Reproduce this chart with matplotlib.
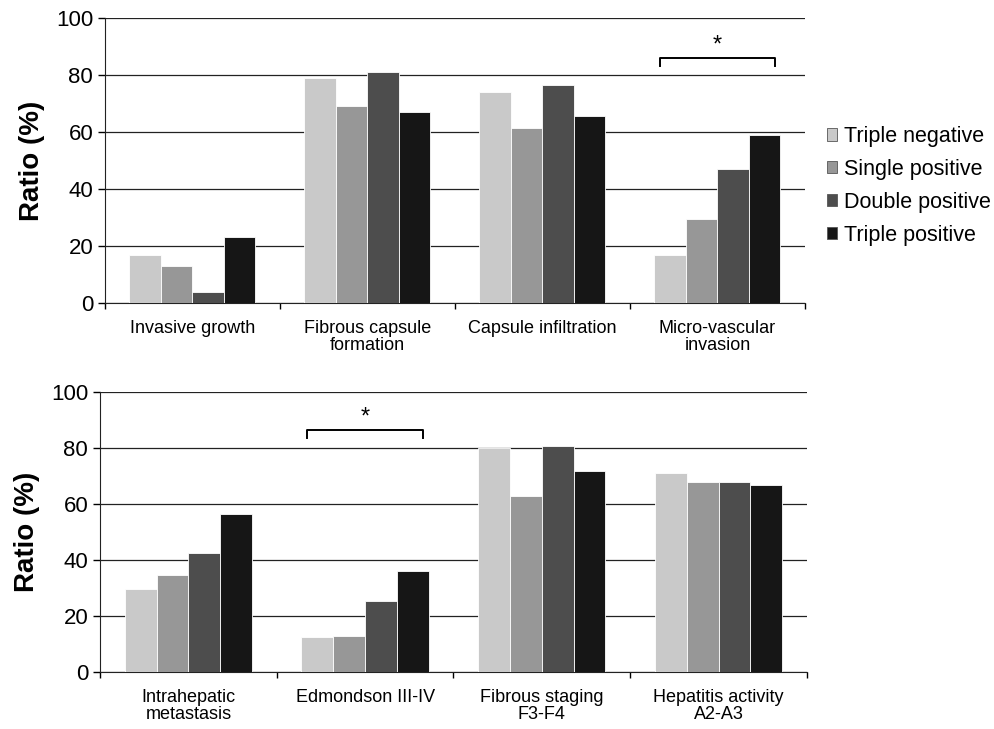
import numpy as np
import matplotlib.pyplot as plt
from matplotlib.patches import Patch

# Data
groups = ["Triple negative", "Single positive", "Double positive", "Triple positive"]
colors = ["#c9c9c9", "#979797", "#4d4d4d", "#161616"]

top_labels = ["Invasive growth", "Fibrous capsule\nformation", "Capsule infiltration",
              "Micro-vascular\ninvasion"]
top_values = [
    [17, 79, 74, 17],    # Triple negative
    [13, 69, 61.5, 29.5],  # Single positive
    [4, 81, 76.5, 47],   # Double positive
    [23, 67, 65.5, 59],  # Triple positive
]

bot_labels = ["Intrahepatic\nmetastasis", "Edmondson III-IV", "Fibrous staging\nF3-F4",
              "Hepatitis activity\nA2-A3"]
bot_values = [
    [29.5, 12.5, 80, 71.2],
    [34.5, 13, 62.8, 68],
    [42.5, 25.5, 80.8, 68],
    [56.5, 36, 71.8, 66.7],
]

# significance brackets: (category index, bracket height)
top_sig = (3, 86)
bot_sig = (1, 86.5)

plt.rcParams['font.family'] = ['Liberation Sans', 'DejaVu Sans']

fig = plt.figure(figsize=(9.95, 7.29), dpi=100)
ax1 = fig.add_axes([0.1055, 0.5844, 0.7035, 0.391])
ax2 = fig.add_axes([0.1005, 0.0782, 0.7105, 0.3841])

width = 0.18
offsets = np.array([-1.5, -0.5, 0.5, 1.5]) * width


def draw_panel(ax, labels, values, sig):
    x = np.arange(len(labels))
    for i, vals in enumerate(values):
        ax.bar(x + offsets[i], vals, width, color=colors[i], edgecolor="white",
               linewidth=0.6, zorder=3, label=groups[i])
    ax.set_ylim(0, 100)
    ax.set_xlim(-0.5, len(labels) - 0.5)
    ax.set_yticks(np.arange(0, 101, 20))
    ax.yaxis.grid(True, color="#222222", linewidth=0.9, zorder=0)
    ax.set_axisbelow(True)
    ax.set_xticks(np.arange(-0.5, len(labels), 1.0))
    ax.set_xticklabels([])
    ax.set_xticks(x, minor=True)
    ax.set_xticklabels(labels, minor=True, fontsize=13, linespacing=1.05)
    ax.tick_params(axis="x", which="major", length=4, direction="out", width=1)
    ax.tick_params(axis="x", which="minor", length=0, pad=12)
    ax.tick_params(axis="y", length=5, direction="out", labelsize=16, width=1)
    for s in ["top", "right"]:
        ax.spines[s].set_visible(False)
    ax.spines["left"].set_color("#222222")
    ax.spines["bottom"].set_color("#222222")
    ax.set_ylabel("Ratio (%)", fontsize=20, fontweight="bold", labelpad=8)

    c, h = sig
    x0, x1 = c - 0.33, c + 0.33
    ax.plot([x0, x0, x1, x1], [h - 3, h, h, h - 3], color="black", lw=1.4,
            zorder=4, clip_on=False)
    ax.text(c, h + 0.5, "*", ha="center", va="bottom", fontsize=17)


draw_panel(ax1, top_labels, top_values, top_sig)
draw_panel(ax2, bot_labels, bot_values, bot_sig)

handles = [Patch(facecolor=colors[i], edgecolor="#555555", linewidth=0.6) for i in range(4)]
fig.legend(handles, groups, loc="center left", bbox_to_anchor=(0.822, 0.745),
           frameon=False, fontsize=15.5, handlelength=0.5, handleheight=0.5,
           handletextpad=0.3, labelspacing=0.55, borderaxespad=0)

fig.savefig("out.png", dpi=100)
